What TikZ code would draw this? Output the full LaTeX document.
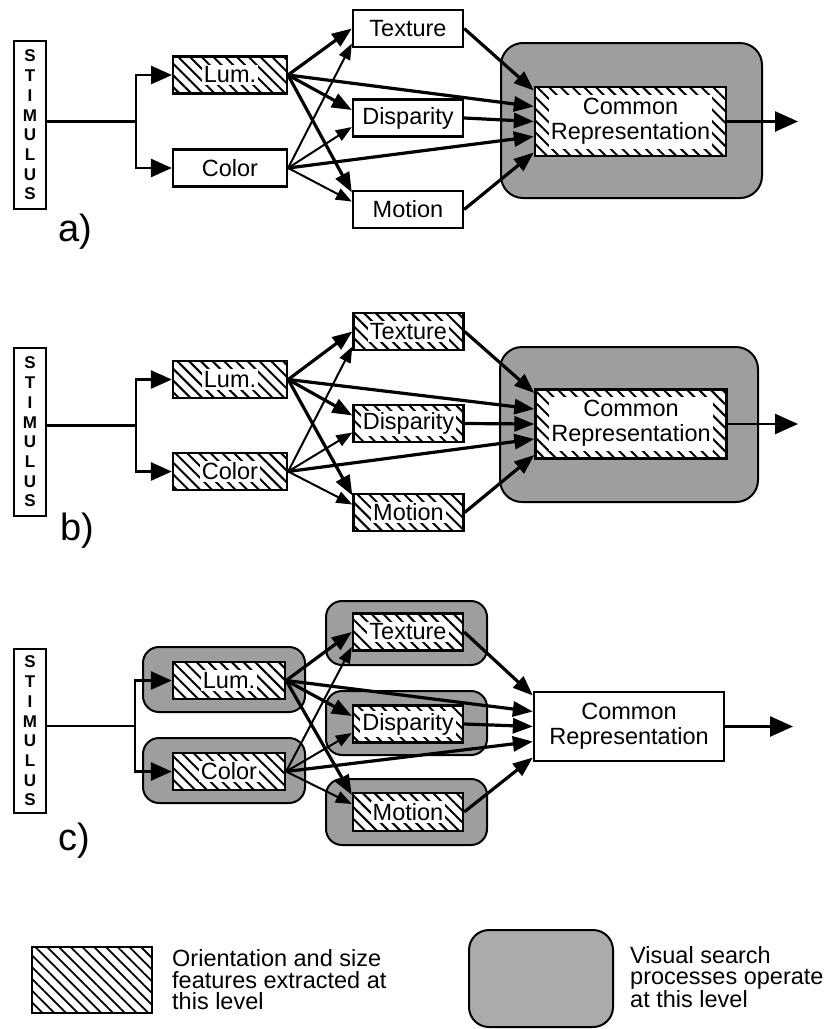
\documentclass[tikz,border=0pt]{standalone}
\usepackage{fontspec}
\setmainfont{Liberation Sans}
\usetikzlibrary{arrows.meta,patterns.meta}

\newcommand{\wb}[1]{{\setlength{\fboxsep}{2pt}\colorbox{white}{#1}}}
\newcommand{\crtext}{\begin{tabular}{@{}c@{}}Common\\Representation\end{tabular}}

\tikzset{
  box/.style={draw, line width=2.3pt, inner sep=0pt, font=\fontsize{23.5}{25}\selectfont},
  plainbox/.style={box, fill=white},
  hatchbox/.style={box, preaction={fill=white}, pattern={Lines[angle=-45,distance=8.3pt,line width=2pt]}},
  lumsize/.style={minimum width=114pt, minimum height=37pt},
  featsize/.style={minimum width=110pt, minimum height=37pt},
  crsize/.style={minimum width=191pt, minimum height=69pt},
  searchbg/.style={draw, line width=2pt, fill=black!38, inner sep=0pt},
  stim/.style={draw, line width=2pt, fill=white, inner sep=0pt, align=center,
    minimum width=32pt, minimum height=168pt, font=\bfseries\fontsize{17}{19.7}\selectfont},
  tag/.style={anchor=base west, inner sep=0pt, font=\fontsize{38}{40}\selectfont},
  wire/.style={line width=2.6pt},
  inarr/.style={line width=2.8pt, -{Triangle[length=21pt,width=18pt]}},
  heavyarr/.style={line width=3.2pt, -{Triangle[length=20pt,width=15pt]}},
  lightarr/.style={line width=2pt, -{Triangle[length=16pt,width=12pt]}},
  bigarr/.style={line width=2.6pt, -{Triangle[length=23pt,width=20pt]}},
  legtext/.style={anchor=west, align=left, inner sep=0pt, font=\fontsize{23.5}{21.5}\selectfont}
}

\begin{document}
\begin{tikzpicture}[x=1pt, y=-1pt]
\useasboundingbox[fill=white] (0,0) rectangle (828,1029);

% ---- a) ----
\node[searchbg, minimum width=261pt, minimum height=155pt, rounded corners=22pt] (crbgA) at (631.5,120.5) {};
\node[stim] (stimA) at (30,125) {S\\T\\I\\M\\U\\L\\U\\S};
\node[hatchbox, lumsize] (lumA) at (230,75) {\wb{Lum.}};
\node[plainbox, lumsize] (colA) at (230,168) {Color};
\node[plainbox, featsize] (texA) at (408,28.5) {Texture};
\node[plainbox, featsize] (disA) at (408,118) {Disparity};
\node[plainbox, featsize] (motA) at (408,209.5) {Motion};
\node[hatchbox, crsize] (crA) at (630.5,121.5) {\wb{\crtext}};
\node[tag] (tagA) at (58,241) {a)};
\coordinate (brA) at (136,121.5);
\coordinate (outA) at (798,121.5);

\draw[wire] (stimA.east |- brA) -- (brA);
\draw[inarr] (brA) |- (lumA);
\draw[inarr] (brA) |- (colA);
\draw[heavyarr] (lumA.east) -- (texA.west);
\draw[heavyarr] (lumA.east) -- ([yshift=8pt]disA.west);
\draw[heavyarr] (lumA.east) -- ([yshift=17pt]motA.west);
\draw[heavyarr] (lumA.east) -- ([yshift=15pt]crA.west);
\draw[lightarr] (colA.east) -- ([yshift=-15pt]texA.west);
\draw[lightarr] (colA.east) -- ([yshift=-9pt]disA.west);
\draw[lightarr] (colA.east) -- ([yshift=8pt]motA.west);
\draw[heavyarr] (colA.east) -- ([yshift=-15pt]crA.west);
\draw[heavyarr] (texA.east) -- ([yshift=31pt]crA.west);
\draw[heavyarr] (disA.east) -- (crA.west);
\draw[heavyarr] (motA.east) -- ([yshift=-31pt]crA.west);
\draw[bigarr] (crA.east) -- (outA);

% ---- b) ----
\begin{scope}[yshift=-304pt]
\node[searchbg, minimum width=258pt, minimum height=155pt, rounded corners=22pt] (crbgB) at (629,120.5) {};
\node[stim] (stimB) at (30,128) {S\\T\\I\\M\\U\\L\\U\\S};
\node[hatchbox, lumsize] (lumB) at (230,75.5) {\wb{Lum.}};
\node[hatchbox, lumsize] (colB) at (230,167.5) {\wb{Color}};
\node[hatchbox, featsize] (texB) at (408.5,27.5) {\wb{Texture}};
\node[hatchbox, featsize] (disB) at (408.5,119.5) {\wb{Disparity}};
\node[hatchbox, featsize] (motB) at (408.5,208.5) {\wb{Motion}};
\node[hatchbox, crsize] (crB) at (631,120) {\wb{\crtext}};
\node[tag] (tagB) at (60,236) {b)};
\coordinate (brB) at (136,121.5);
\coordinate (outB) at (798,120);

\draw[wire] (stimB.east |- brB) -- (brB);
\draw[inarr] (brB) |- (lumB);
\draw[inarr] (brB) |- (colB);
\draw[heavyarr] (lumB.east) -- (texB.west);
\draw[heavyarr] (lumB.east) -- ([yshift=8pt]disB.west);
\draw[heavyarr] (lumB.east) -- ([yshift=17pt]motB.west);
\draw[heavyarr] (lumB.east) -- ([yshift=15pt]crB.west);
\draw[lightarr] (colB.east) -- ([yshift=-15pt]texB.west);
\draw[lightarr] (colB.east) -- ([yshift=-9pt]disB.west);
\draw[lightarr] (colB.east) -- ([yshift=8pt]motB.west);
\draw[heavyarr] (colB.east) -- ([yshift=-15pt]crB.west);
\draw[heavyarr] (texB.east) -- ([yshift=31pt]crB.west);
\draw[heavyarr] (disB.east) -- (crB.west);
\draw[heavyarr] (motB.east) -- ([yshift=-31pt]crB.west);
\draw[bigarr] (crB.east) -- (outB);
\end{scope}

% ---- c) ----
\begin{scope}[yshift=-605pt]
\node[searchbg, minimum width=162pt, minimum height=65pt, rounded corners=16pt] (lumbgC) at (224,74.5) {};
\node[searchbg, minimum width=162pt, minimum height=65pt, rounded corners=16pt] (colbgC) at (224,165.5) {};
\node[searchbg, minimum width=161pt, minimum height=64pt, rounded corners=16pt] (texbgC) at (406.5,28) {};
\node[searchbg, minimum width=161pt, minimum height=64pt, rounded corners=16pt] (disbgC) at (406.5,118) {};
\node[searchbg, minimum width=161pt, minimum height=66pt, rounded corners=16pt] (motbgC) at (406.5,207) {};
\node[stim, minimum height=164pt] (stimC) at (30,126) {S\\T\\I\\M\\U\\L\\U\\S};
\node[hatchbox, lumsize, minimum width=112pt] (lumC) at (229,75.5) {\wb{Lum.}};
\node[hatchbox, lumsize, minimum width=112pt] (colC) at (229,166.5) {\wb{Color}};
\node[hatchbox, featsize] (texC) at (408,27) {\wb{Texture}};
\node[hatchbox, featsize] (disC) at (408,119) {\wb{Disparity}};
\node[hatchbox, featsize, minimum height=38pt] (motC) at (408,207) {\wb{Motion}};
\node[plainbox, crsize, minimum width=190pt] (crC) at (629,121.5) {\crtext};
\node[tag] (tagC) at (58,245) {c)};
\coordinate (brC) at (135,121);
\coordinate (outC) at (793,121.5);

\draw[wire] (stimC.east |- brC) -- (brC);
\draw[inarr] (brC) |- (lumC);
\draw[inarr] (brC) |- (colC);
\draw[heavyarr] (lumC.east) -- (texC.west);
\draw[heavyarr] (lumC.east) -- ([yshift=8pt]disC.west);
\draw[heavyarr] (lumC.east) -- ([yshift=17pt]motC.west);
\draw[heavyarr] (lumC.east) -- ([yshift=15pt]crC.west);
\draw[lightarr] (colC.east) -- ([yshift=-15pt]texC.west);
\draw[lightarr] (colC.east) -- ([yshift=-9pt]disC.west);
\draw[lightarr] (colC.east) -- ([yshift=8pt]motC.west);
\draw[heavyarr] (colC.east) -- ([yshift=-15pt]crC.west);
\draw[heavyarr] (texC.east) -- ([yshift=31pt]crC.west);
\draw[heavyarr] (disC.east) -- (crC.west);
\draw[heavyarr] (motC.east) -- ([yshift=-31pt]crC.west);
\draw[bigarr] (crC.east) -- (outC);
\end{scope}

% ---- legend ----
\node[draw, line width=2pt, inner sep=0pt, minimum width=120pt, minimum height=66pt,
  pattern={Lines[angle=-45,distance=8.3pt,line width=1.8pt]}] (keyhatch) at (92,980) {};
\node[legtext] (keyhatchtxt) at (172,980) {Orientation and size\\features extracted at\\this level};
\node[searchbg, fill=black!33, minimum width=144pt, minimum height=97pt, rounded corners=20pt] (keysearch) at (541,978.5) {};
\node[legtext] (keysearchtxt) at (630,977) {Visual search\\processes operate\\at this level};
\end{tikzpicture}
\end{document}
